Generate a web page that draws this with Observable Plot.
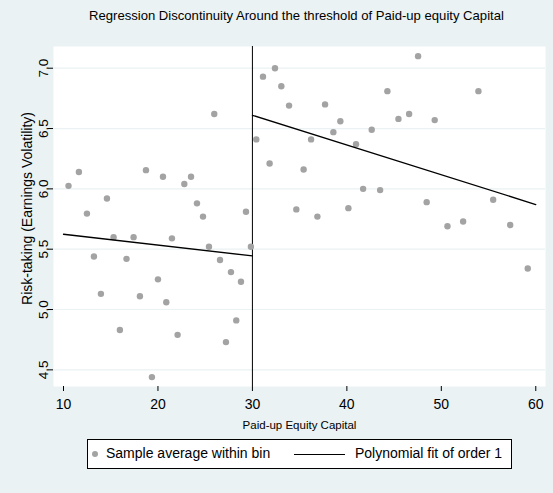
<!DOCTYPE html>
<html><head><meta charset="utf-8">
<script src="https://cdn.jsdelivr.net/npm/d3@7"></script>
<script src="https://cdn.jsdelivr.net/npm/@observablehq/plot@0.6"></script>
<style>
html,body{margin:0;padding:0;background:#EAF2F3;}
#wrap{width:553px;height:493px;position:relative;background:#EAF2F3;overflow:hidden;font-family:"Liberation Sans",Arial,sans-serif;color:#000;}
#title{height:30px;position:relative;}
#title span{position:absolute;left:89px;top:8px;font-size:13.1px;white-space:nowrap;}
#chart svg{display:block;}
#legend{position:absolute;left:87px;top:439px;width:423px;height:28px;border:1px solid #000;background:#fff;font-size:14px;}
#legend .dot{position:absolute;left:4px;top:11px;width:6px;height:6px;border-radius:50%;background:#a3a3a3;}
#legend .t1{position:absolute;left:18px;top:5px;white-space:nowrap;}
#legend .ln{position:absolute;left:206px;top:14px;width:51px;border-top:1px solid #000;}
#legend .t2{position:absolute;left:267px;top:5px;white-space:nowrap;}
</style></head>
<body>
<div id="wrap">
  <div id="title"><span></span></div>
  <div id="chart"></div>
  <div id="legend"><span class="dot"></span><span class="t1"></span><span class="ln"></span><span class="t2"></span></div>
</div>
<script>
const titleText = "Regression Discontinuity Around the threshold of Paid-up equity Capital";
const xTitle = "Paid-up Equity Capital";
const yTitle = "Risk-taking (Earnings Volatility)";
const legendLabels = ["Sample average within bin", "Polynomial fit of order 1"];

const threshold = 30;
const xTicks = [10, 20, 30, 40, 50, 60];
const yTicks = [4.5, 5.0, 5.5, 6.0, 6.5, 7.0];

// bin averages, left of threshold
const binXLeft = [10.53, 11.63, 12.48, 13.22, 13.96, 14.60, 15.30, 15.97, 16.67, 17.42, 18.09, 18.73, 19.36, 20.00, 20.53, 20.88, 21.48, 22.08, 22.79, 23.50, 24.13, 24.77, 25.40, 25.96, 26.57, 27.20, 27.73, 28.29, 28.79, 29.32, 29.84];
const binYLeft = [6.025, 6.14, 5.795, 5.44, 5.13, 5.92, 5.60, 4.83, 5.42, 5.60, 5.11, 6.155, 4.44, 5.25, 6.10, 5.06, 5.59, 4.79, 6.04, 6.10, 5.88, 5.77, 5.52, 6.62, 5.41, 4.73, 5.31, 4.91, 5.23, 5.81, 5.52];
// bin averages, right of threshold
const binXRight = [30.41, 31.12, 31.82, 32.39, 33.06, 33.88, 34.65, 35.42, 36.21, 36.88, 37.69, 38.57, 39.31, 40.16, 40.97, 41.72, 42.63, 43.52, 44.29, 45.46, 46.59, 47.54, 48.45, 49.30, 50.65, 52.31, 53.93, 55.49, 57.29, 59.15];
const binYRight = [6.41, 6.93, 6.21, 7.00, 6.85, 6.69, 5.83, 6.16, 6.41, 5.77, 6.70, 6.47, 6.56, 5.84, 6.37, 6.00, 6.49, 5.99, 6.81, 6.58, 6.62, 7.10, 5.89, 6.57, 5.69, 5.73, 6.81, 5.91, 5.70, 5.34];

// linear fits on each side (end points)
const fitX = [10, 30, 30, 60];
const fitY = [5.624, 5.444, 6.61, 5.87];
const fitSide = ["left", "left", "right", "right"];

const xDomain = [8.94, 61.03];
const yDomain = [4.362, 7.18];

const bins = [
  ...binXLeft.map((x, i) => ({x, y: binYLeft[i]})),
  ...binXRight.map((x, i) => ({x, y: binYRight[i]}))
];
const fit = fitX.map((x, i) => ({x, y: fitY[i], side: fitSide[i]}));

document.querySelector("#title span").textContent = titleText;
document.querySelector("#legend .t1").textContent = legendLabels[0];
document.querySelector("#legend .t2").textContent = legendLabels[1];

const chart = Plot.plot({
  width: 553,
  height: 402,
  marginTop: 16,
  marginBottom: 46,
  marginLeft: 53,
  marginRight: 8,
  style: {background: "#EAF2F3", fontFamily: "Liberation Sans, Arial, sans-serif", color: "#000"},
  x: {domain: xDomain, line: true},
  y: {domain: yDomain, line: true},
  marks: [
    Plot.frame({fill: "#fff", stroke: null}),
    Plot.gridY(yTicks, {stroke: "#EAF2F3", strokeOpacity: 1, strokeWidth: 1.2}),
    Plot.axisX({ticks: xTicks, tickSize: 5, fontSize: 14, tickPadding: 8, label: null, tickFormat: d3.format("d")}),
    Plot.axisY({ticks: yTicks, tickSize: 5, tickPadding: 1, fontSize: 13.5, tickRotate: -90, tickFormat: d3.format(".1f"), label: null}),
    Plot.text([xTitle], {frameAnchor: "bottom", dy: 42, fontSize: 11.5}),
    Plot.text([yTitle], {frameAnchor: "left", textAnchor: "middle", dx: -26, dy: -8, rotate: -90, fontSize: 14}),
    Plot.ruleX([threshold], {stroke: "#000", strokeWidth: 1}),
    Plot.dot(bins, {x: "x", y: "y", r: 3.2, fill: "#a3a3a3", stroke: null}),
    Plot.line(fit, {x: "x", y: "y", z: "side", stroke: "#000", strokeWidth: 1.3})
  ]
});
document.getElementById("chart").appendChild(chart);
</script>
</body></html>
